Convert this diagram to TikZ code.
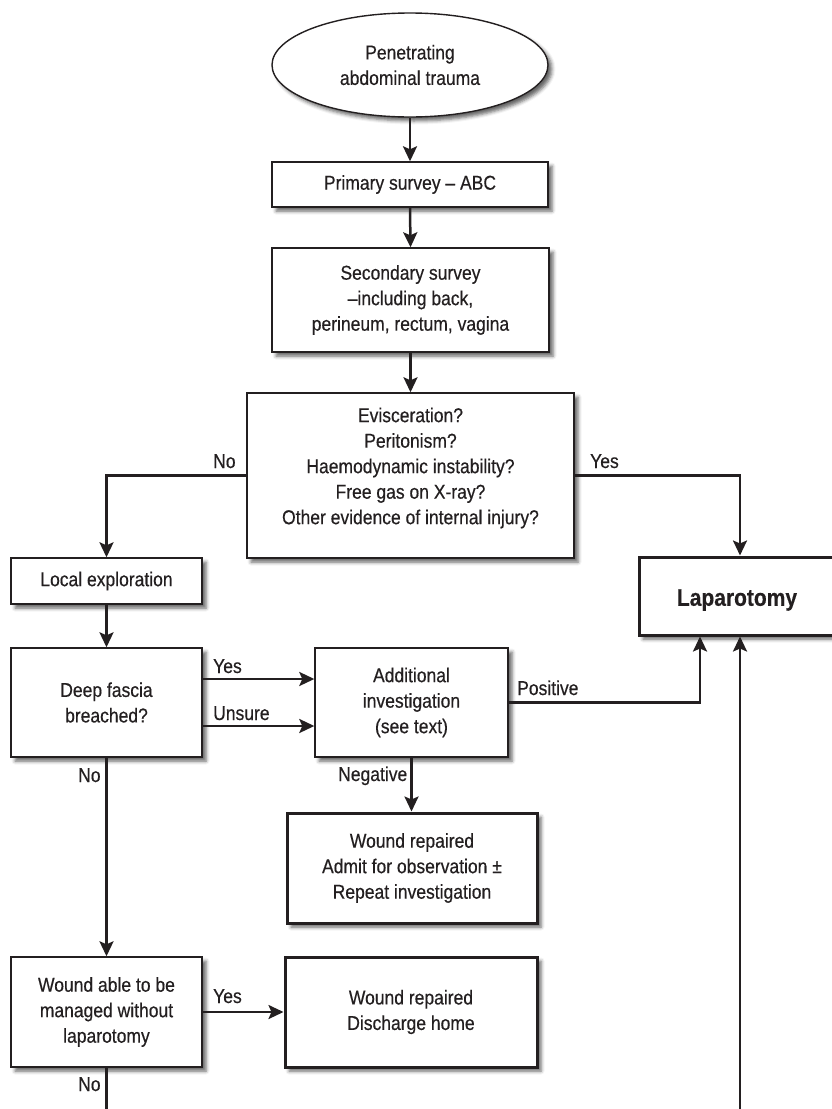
\documentclass[tikz,border=0pt]{standalone}
\usepackage{fontspec}
\setmainfont{Liberation Sans}[FakeStretch=0.875, FakeBold=0.4]
\usetikzlibrary{arrows.meta,shapes.geometric,shadows.blur}
\definecolor{ink}{HTML}{231F20}
\begin{document}
\begin{tikzpicture}[x=1pt,y=-1pt,
  every node/.style={text=ink, font=\fontsize{20}{25.5}\selectfont},
  box/.style={draw=ink, line width=1.4pt, fill=white, align=center, inner sep=0pt,
    blur shadow={shadow xshift=4pt, shadow yshift=-4pt, shadow blur radius=3.5pt, shadow opacity=60}},
  endbox/.style={box, line width=3pt},
  txt/.style={align=center, inner sep=0pt},
  lbl/.style={inner sep=0pt},
  flow/.style={draw=ink, line width=2.5pt, -{Stealth[length=15pt,width=14pt,inset=3pt]}},
  plain/.style={draw=ink, line width=2.5pt}
]
\useasboundingbox (0,0) rectangle (832,1109);

% main column
\node[box, ellipse, minimum width=276pt, minimum height=104pt] (start) at (410,65)
  {Penetrating\\abdominal trauma};
\node[box, minimum width=276pt, minimum height=45pt] (primary) at (410,184.5)
  {Primary survey -- ABC};
\node[box, minimum width=277pt, minimum height=104pt] (secondary) at (410.5,300)
  {Secondary survey\\--including back,\\perineum, rectum, vagina};
\node[box, minimum width=327pt, minimum height=165pt] (question) at (410.5,475.5) {};
\node[txt] (qtext) at (410.5,468)
  {Evisceration?\\Peritonism?\\Haemodynamic instability?\\Free gas on X-ray?\\Other evidence of internal injury?};

% left column
\node[box, minimum width=191pt, minimum height=46pt] (local) at (106.5,581) {Local exploration};
\node[box, minimum width=191pt, minimum height=109pt] (deep) at (106.5,702.5) {Deep fascia\\breached?};
\node[box, minimum width=191pt, minimum height=110pt] (wound) at (106.5,1012)
  {Wound able to be\\managed without\\laparotomy};

% middle column
\node[box, minimum width=193pt, minimum height=109pt] (addl) at (411.5,702.5)
  {Additional\\investigation\\(see text)};
\node[endbox, minimum width=250pt, minimum height=110pt] (obs) at (412,868)
  {Wound repaired\\Admit for observation ±\\Repeat investigation};
\node[endbox, minimum width=252pt, minimum height=110pt] (discharge) at (411,1012)
  {Wound repaired\\Discharge home};

% right column
\node[endbox, minimum width=202pt, minimum height=78pt] (lap) at (740,596) {};
\node[txt, font=\fontsize{24}{28}\selectfont\bfseries] (laptext) at (737,600) {Laparotomy};

% free ends at the lower edge
\coordinate (bottomL) at (106.5,1109);
\coordinate (bottomR) at (740,1109);

% connectors
\draw[flow] (start.south) -- (primary.north);
\draw[flow] (primary.south) -- (secondary.north);
\draw[flow] (secondary.south) -- (question.north);
\draw[flow] (question.west) -| (local.north);
\draw[flow] (question.east) -| (lap.north);
\draw[flow] (local.south) -- (deep.north);
\draw[flow] ([yshift=23.5pt]deep.east) -- ([yshift=23.5pt]addl.west);
\draw[flow] ([yshift=-23.5pt]deep.east) -- ([yshift=-23.5pt]addl.west);
\draw[flow] (addl.east) -| ([xshift=-40pt]lap.south);
\draw[flow] (addl.south) -- (addl.south |- obs.north);
\draw[flow] (deep.south) -- (wound.north);
\draw[flow] (wound.east) -- (discharge.west);
\draw[plain] (wound.south) -- (bottomL);
\draw[flow] (bottomR) -- (lap.south);

% branch labels
\node[lbl, anchor=base west] (lno1) at (213,468) {No};
\node[lbl, anchor=base west] (lyes1) at (590,468) {Yes};
\node[lbl, anchor=base west] (lyes2) at (213,673) {Yes};
\node[lbl, anchor=base west] (lunsure) at (213,720) {Unsure};
\node[lbl, anchor=base west] (lpos) at (517,695) {Positive};
\node[lbl, anchor=base west] (lno2) at (78,782) {No};
\node[lbl, anchor=base west] (lneg) at (338,781) {Negative};
\node[lbl, anchor=base west] (lyes3) at (213,1003) {Yes};
\node[lbl, anchor=base west] (lno3) at (78,1091) {No};
\end{tikzpicture}
\end{document}
